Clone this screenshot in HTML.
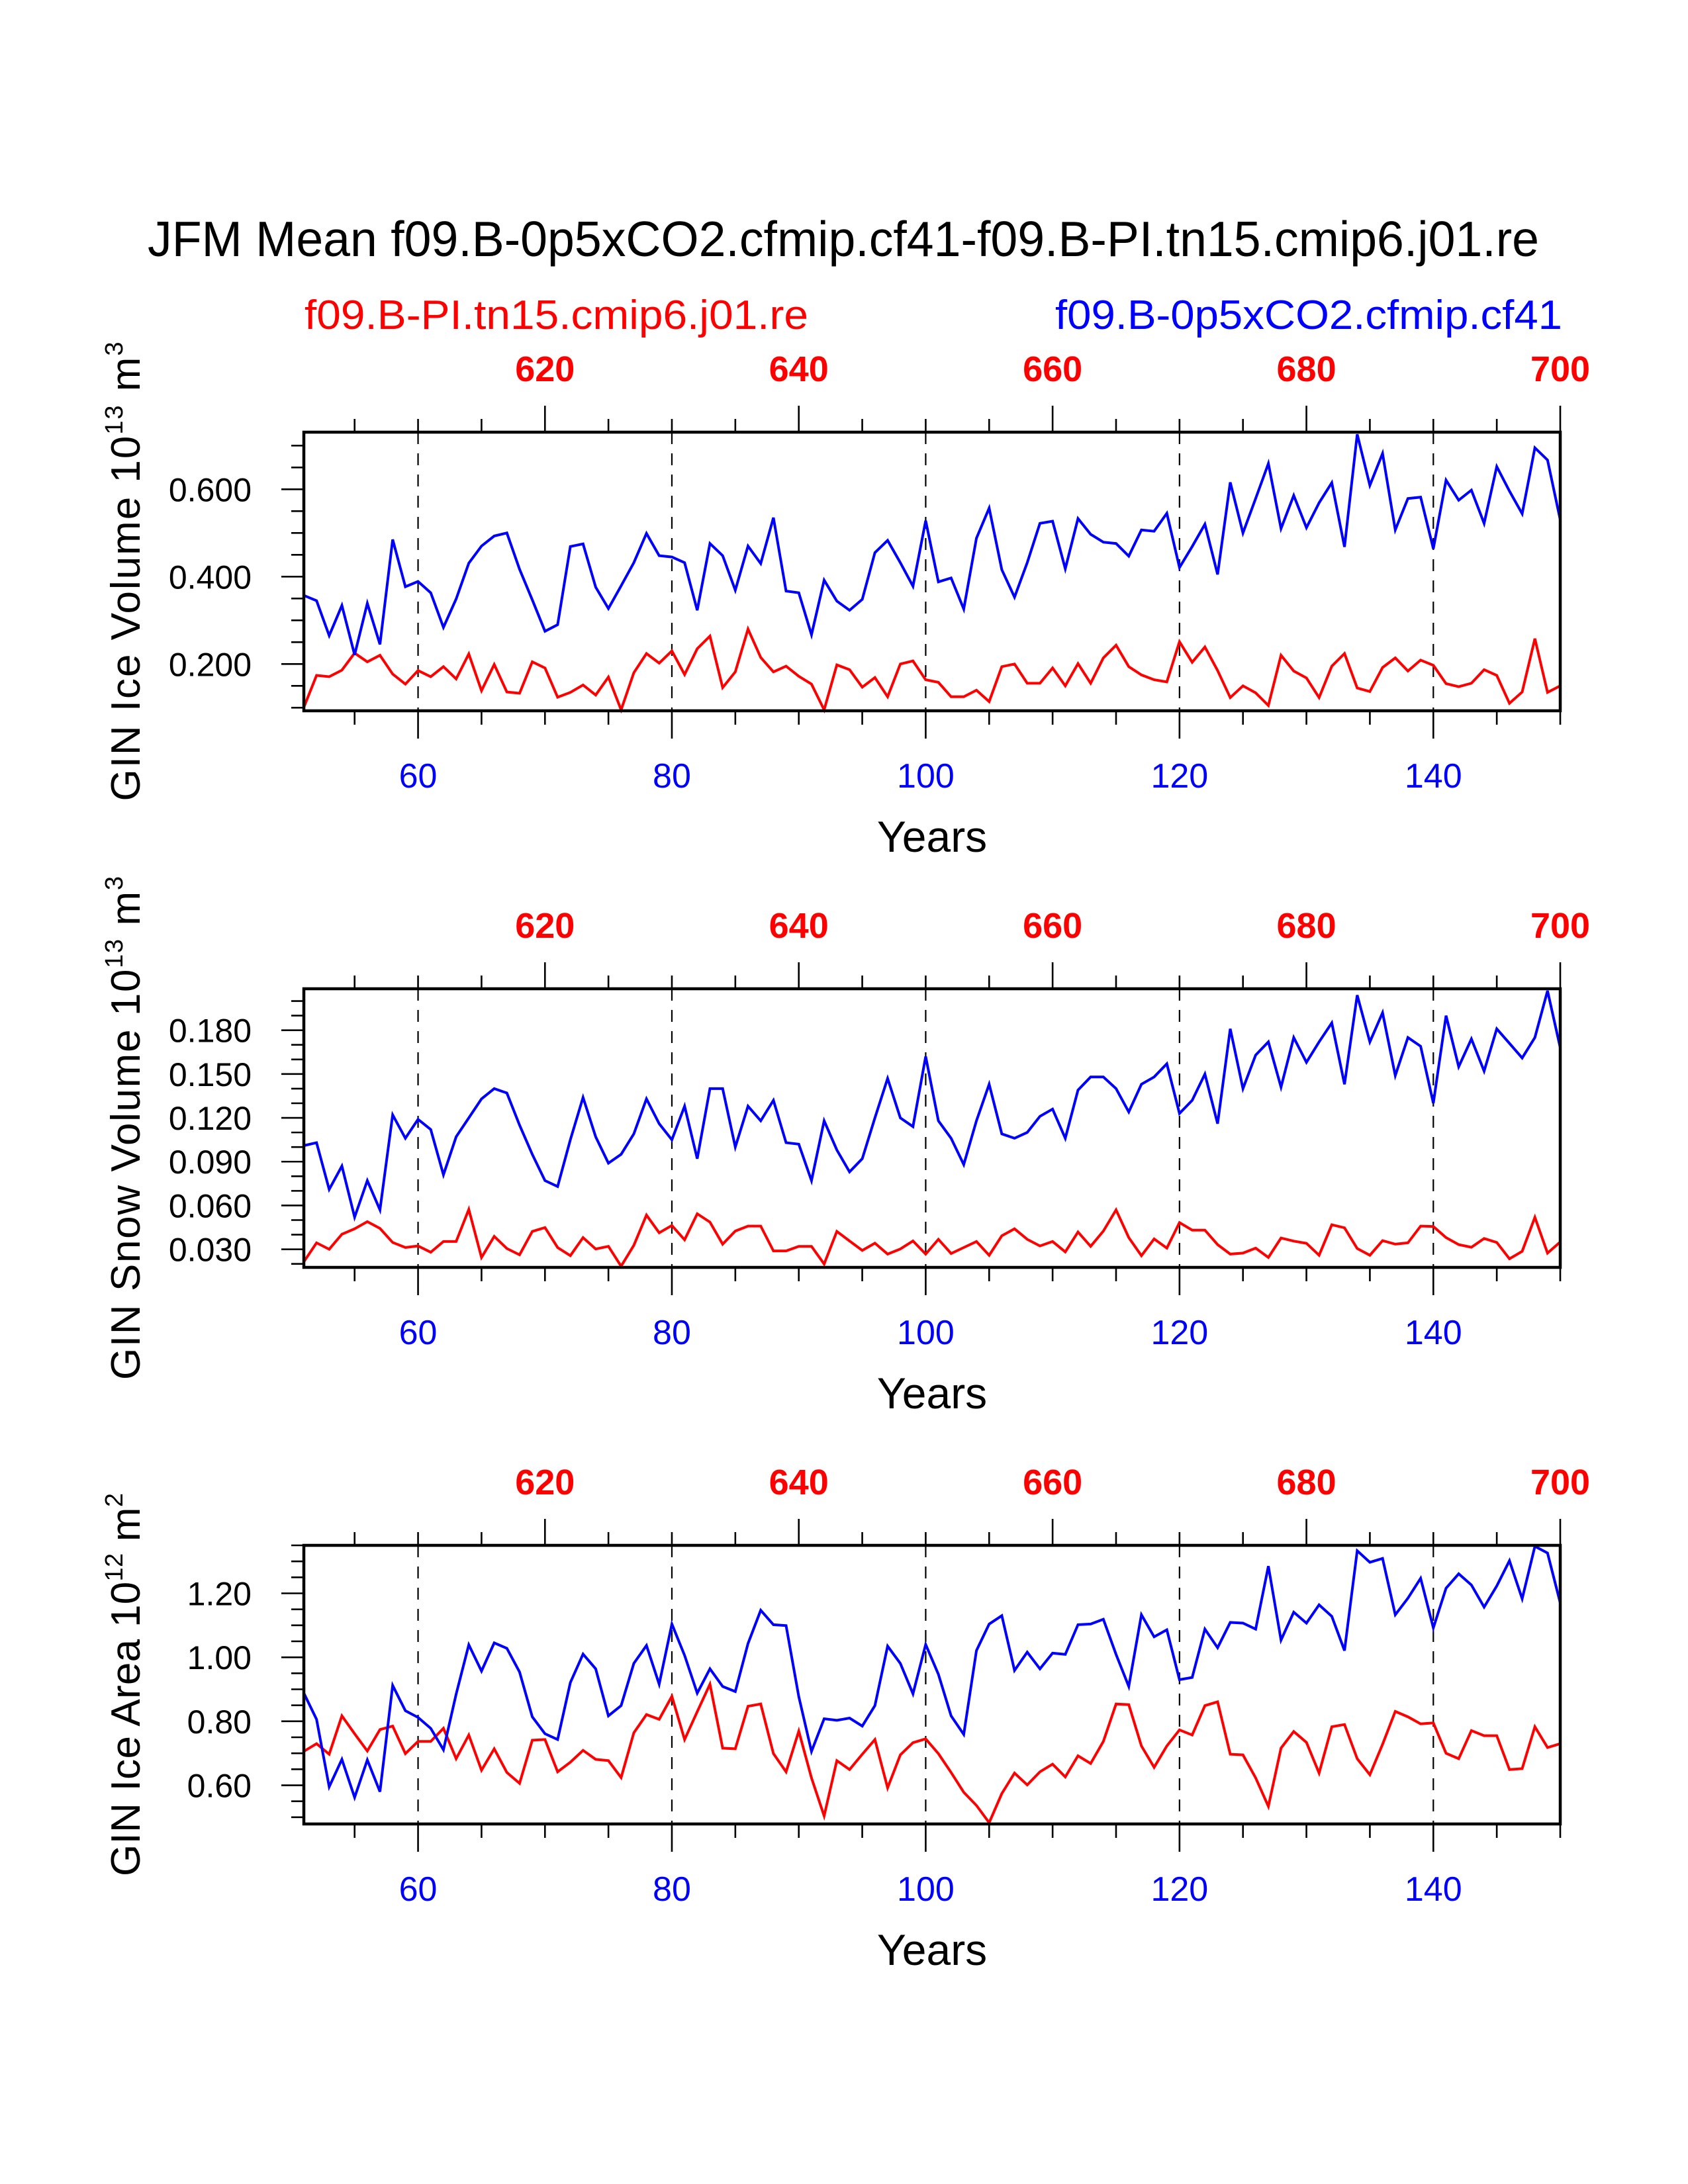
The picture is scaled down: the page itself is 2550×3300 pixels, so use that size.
<!DOCTYPE html>
<html>
<head>
<meta charset="utf-8">
<style>
  html,body{margin:0;padding:0;background:#fff;}
  svg{display:block;}
  text{font-family:"Liberation Sans", Arial, sans-serif;}
</style>
</head>
<body>
<svg id="chart" xmlns="http://www.w3.org/2000/svg" width="2550" height="3300" viewBox="0 0 2550 3300">
  <rect x="0" y="0" width="2550" height="3300" fill="#fff"/>
  <text x="223" y="387" font-size="75" fill="#000" textLength="2102" lengthAdjust="spacingAndGlyphs">JFM Mean f09.B-0p5xCO2.cfmip.cf41-f09.B-PI.tn15.cmip6.j01.re</text>
  <text x="460" y="497" font-size="62" fill="#ff0000" textLength="761" lengthAdjust="spacingAndGlyphs">f09.B-PI.tn15.cmip6.j01.re</text>
  <text x="1594" y="497" font-size="62" fill="#0000ff" textLength="766" lengthAdjust="spacingAndGlyphs">f09.B-0p5xCO2.cfmip.cf41</text>
</svg>
<script>
const years = [];
for (let y = 51; y <= 150; y++) years.push(y);

const iceVolBlue = [0.357,0.345,0.265,0.334,0.221,0.339,0.245,0.485,0.377,0.389,
0.363,0.284,0.349,0.431,0.470,0.493,0.500,0.417,0.347,0.275,
0.290,0.469,0.475,0.376,0.327,0.379,0.432,0.499,0.448,0.445,
0.432,0.323,0.476,0.448,0.369,0.470,0.430,0.535,0.367,0.363,
0.267,0.392,0.344,0.323,0.348,0.455,0.483,0.432,0.378,0.528,
0.388,0.397,0.326,0.488,0.557,0.416,0.353,0.432,0.522,0.527,
0.418,0.533,0.497,0.479,0.476,0.447,0.507,0.504,0.545,0.421,
0.469,0.520,0.405,0.616,0.500,0.579,0.659,0.510,0.586,0.512,
0.569,0.615,0.468,0.726,0.609,0.682,0.507,0.579,0.582,0.464,
0.621,0.575,0.598,0.522,0.652,0.596,0.544,0.695,0.667,0.530];
const iceVolRed = [0.101,0.174,0.171,0.186,0.225,0.205,0.220,0.177,0.154,0.185,
0.171,0.194,0.166,0.223,0.139,0.199,0.136,0.133,0.205,0.191,
0.124,0.135,0.152,0.129,0.170,0.095,0.180,0.224,0.202,0.230,
0.176,0.235,0.264,0.146,0.182,0.280,0.215,0.182,0.195,0.172,
0.154,0.095,0.198,0.187,0.147,0.169,0.125,0.200,0.207,0.164,
0.158,0.125,0.125,0.140,0.114,0.194,0.200,0.156,0.156,0.191,
0.150,0.201,0.156,0.214,0.243,0.194,0.175,0.164,0.159,0.251,
0.204,0.239,0.185,0.123,0.150,0.134,0.105,0.220,0.184,0.168,
0.123,0.195,0.224,0.145,0.137,0.192,0.214,0.184,0.209,0.197,
0.155,0.148,0.156,0.187,0.174,0.110,0.136,0.258,0.135,0.150];
const snowVolBlue = [0.101,0.103,0.071,0.087,0.052,0.077,0.057,0.122,0.106,0.119,
0.112,0.081,0.107,0.120,0.133,0.140,0.137,0.115,0.095,0.077,
0.073,0.105,0.134,0.107,0.089,0.095,0.109,0.133,0.116,0.105,
0.128,0.092,0.140,0.140,0.100,0.128,0.118,0.132,0.103,0.102,
0.077,0.118,0.098,0.083,0.092,0.120,0.147,0.120,0.114,0.162,
0.118,0.106,0.088,0.118,0.143,0.109,0.106,0.110,0.121,0.126,
0.106,0.139,0.148,0.148,0.140,0.124,0.143,0.148,0.157,0.123,
0.132,0.150,0.116,0.181,0.140,0.163,0.172,0.141,0.175,0.158,
0.172,0.185,0.143,0.204,0.172,0.192,0.149,0.175,0.169,0.130,
0.190,0.155,0.174,0.152,0.181,0.171,0.161,0.175,0.207,0.168];
const snowVolRed = [0.0214,0.0344,0.030,0.0403,0.0440,0.0489,0.0443,0.0347,0.0312,0.0323,
0.0280,0.0353,0.0353,0.0573,0.0244,0.0388,0.0305,0.0262,0.0422,0.0449,
0.0312,0.0256,0.0380,0.0302,0.0320,0.0184,0.0327,0.0534,0.0413,0.0463,
0.0365,0.0543,0.0486,0.0335,0.0425,0.0459,0.0459,0.0289,0.0289,0.0320,
0.0320,0.0199,0.0422,0.0357,0.0292,0.0342,0.0267,0.0302,0.0357,0.0267,
0.0368,0.0271,0.0312,0.0353,0.0259,0.0392,0.0440,0.0368,0.0323,0.0353,
0.0282,0.0418,0.0320,0.0425,0.0570,0.0380,0.0256,0.0371,0.0308,0.0483,
0.0431,0.0431,0.0332,0.0267,0.0274,0.0308,0.0244,0.0377,0.0356,0.0341,
0.0259,0.0468,0.0447,0.0305,0.0259,0.0359,0.0335,0.0344,0.0459,0.0456,
0.0380,0.0332,0.0314,0.0374,0.0347,0.0235,0.0286,0.0519,0.0274,0.035];
const iceAreaBlue = [0.888,0.806,0.595,0.681,0.562,0.679,0.580,0.912,0.833,0.812,
0.778,0.711,0.885,1.039,0.957,1.045,1.028,0.954,0.814,0.761,
0.743,0.921,1.010,0.964,0.817,0.849,0.981,1.037,0.916,1.104,
1.006,0.888,0.964,0.909,0.893,1.043,1.147,1.102,1.099,0.877,
0.706,0.808,0.803,0.810,0.785,0.849,1.035,0.981,0.886,1.040,
0.947,0.817,0.759,1.021,1.104,1.130,0.959,1.016,0.964,1.013,
1.009,1.102,1.104,1.119,1.009,0.909,1.133,1.064,1.086,0.930,
0.937,1.088,1.030,1.109,1.107,1.088,1.285,1.054,1.141,1.107,
1.164,1.128,1.021,1.333,1.297,1.309,1.133,1.185,1.247,1.092,
1.216,1.261,1.226,1.157,1.223,1.302,1.183,1.347,1.326,1.170];
const iceAreaRed = [0.706,0.730,0.697,0.817,0.761,0.707,0.774,0.785,0.699,0.737,
0.737,0.778,0.683,0.757,0.647,0.714,0.640,0.606,0.741,0.743,
0.642,0.672,0.709,0.681,0.677,0.624,0.764,0.821,0.806,0.878,
0.743,0.830,0.916,0.716,0.714,0.847,0.854,0.699,0.642,0.769,
0.623,0.504,0.677,0.649,0.697,0.743,0.592,0.695,0.733,0.745,
0.699,0.640,0.578,0.537,0.483,0.574,0.638,0.601,0.642,0.666,
0.626,0.692,0.668,0.737,0.854,0.852,0.723,0.656,0.723,0.773,
0.757,0.849,0.861,0.697,0.695,0.623,0.534,0.716,0.768,0.734,
0.638,0.783,0.790,0.683,0.633,0.728,0.831,0.814,0.792,0.795,
0.700,0.683,0.771,0.755,0.755,0.649,0.652,0.783,0.718,0.73];

const bottomMajorTicks = [60, 80, 100, 120, 140];
const bottomMinorTicks = [55,60,65,70,75,80,85,90,95,100,105,110,115,120,125,130,135,140,145,150];
const topMajorTicks = [620, 640, 660, 680, 700];
const topMinorTicks = [605,610,615,620,625,630,635,640,645,650,655,660,665,670,675,680,685,690,695,700];
const yearOffset = 550;

const p1Major = [0.2, 0.4, 0.6];
const p1Minor = [0.10,0.15,0.20,0.25,0.30,0.35,0.40,0.45,0.50,0.55,0.60,0.65,0.70];
const p2Major = [0.03, 0.06, 0.09, 0.12, 0.15, 0.18];
const p2Minor = [0.02,0.03,0.04,0.05,0.06,0.07,0.08,0.09,0.10,0.11,0.12,0.13,0.14,0.15,0.16,0.17,0.18,0.19,0.20];
const p3Major = [0.6, 0.8, 1.0, 1.2];
const p3Minor = [0.50,0.55,0.60,0.65,0.70,0.75,0.80,0.85,0.90,0.95,1.00,1.05,1.10,1.15,1.20,1.25,1.30,1.35];

const svg = document.getElementById('chart');
const NS = 'http://www.w3.org/2000/svg';
const X0 = 459, X1 = 2357, YR0 = 51, YR1 = 150;
function xScale(yr) { return X0 + (yr - YR0) * (X1 - X0) / (YR1 - YR0); }

function mk(tag, attrs, parent) {
  const e = document.createElementNS(NS, tag);
  for (const k in attrs) e.setAttribute(k, attrs[k]);
  (parent || svg).appendChild(e);
  return e;
}

const panels = [
  {name:'ice-volume', top:653, bottom:1074, vmin:0.0929, vmax:0.7308, major:p1Major, minor:p1Minor, dec:3,
   blue:iceVolBlue, red:iceVolRed, title:'GIN Ice Volume 10', sup1:'13', sup2:'3', tlen:694},
  {name:'snow-volume', top:1494, bottom:1915, vmin:0.0176, vmax:0.2084, major:p2Major, minor:p2Minor, dec:3,
   blue:snowVolBlue, red:snowVolRed, title:'GIN Snow Volume 10', sup1:'13', sup2:'3', tlen:761},
  {name:'ice-area', top:2335, bottom:2756, vmin:0.479, vmax:1.350, major:p3Major, minor:p3Minor, dec:2,
   blue:iceAreaBlue, red:iceAreaRed, title:'GIN Ice Area 10', sup1:'12', sup2:'2', tlen:579}
];

panels.forEach(function(p) {
  const g = mk('g', {});
  
  
  const yScale = function(v) { return p.bottom - (v - p.vmin) * (p.bottom - p.top) / (p.vmax - p.vmin); };

  // dashed grid
  bottomMajorTicks.forEach(function(t) {
    const l = mk('line', {x1:xScale(t), x2:xScale(t), y1:p.top, y2:p.bottom, stroke:'#000', 'stroke-width':2.2, 'stroke-dasharray':'18,14'}, g);
    
    
  });

  // series
  [['red', p.red, '#ff0000'], ['blue', p.blue, '#0000ff']].forEach(function(s) {
    const pts = s[1].map(function(v, i) { return xScale(years[i]).toFixed(1) + ',' + yScale(v).toFixed(1); }).join(' ');
    const pl = mk('polyline', {points:pts, fill:'none', stroke:s[2], 'stroke-width':4, 'stroke-linejoin':'miter'}, g);
    
    
  });

  // frame
  const fr = mk('rect', {x:X0, y:p.top, width:X1 - X0, height:p.bottom - p.top, fill:'none', stroke:'#000', 'stroke-width':4.5}, g);
  
  

  // bottom ticks
  bottomMinorTicks.forEach(function(t) {
    const big = bottomMajorTicks.indexOf(t) >= 0;
    const l = mk('line', {x1:xScale(t), x2:xScale(t), y1:p.bottom, y2:p.bottom + (big ? 42 : 21), stroke:'#000', 'stroke-width':2.6}, g);
    
    
  });
  bottomMajorTicks.forEach(function(t) {
    const tx = mk('text', {x:xScale(t), y:p.bottom + 116, 'font-size':52, fill:'#0000ff', 'text-anchor':'middle'}, g);
    tx.textContent = String(t);
    
    
  });
  const xt = mk('text', {x:(X0 + X1) / 2, y:p.bottom + 213, 'font-size':66, fill:'#000', 'text-anchor':'middle'}, g);
  xt.textContent = 'Years';
  
  

  // top ticks (red years)
  topMinorTicks.forEach(function(t) {
    const big = topMajorTicks.indexOf(t) >= 0;
    const l = mk('line', {x1:xScale(t - yearOffset), x2:xScale(t - yearOffset), y1:p.top, y2:p.top - (big ? 40 : 20), stroke:'#000', 'stroke-width':2.6}, g);
    
    
  });
  topMajorTicks.forEach(function(t) {
    const tx = mk('text', {x:xScale(t - yearOffset), y:p.top - 77, 'font-size':54, 'font-weight':'bold', fill:'#ff0000', 'text-anchor':'middle'}, g);
    tx.textContent = String(t);
    
    
  });

  // y ticks
  p.minor.forEach(function(v) {
    const big = p.major.some(function(m) { return Math.abs(m - v) < 1e-6; });
    const l = mk('line', {x1:X0, x2:X0 - (big ? 34 : 19), y1:yScale(v), y2:yScale(v), stroke:'#000', 'stroke-width':2.6}, g);
    
    
  });
  p.major.forEach(function(v) {
    const tx = mk('text', {x:380, y:yScale(v) + 18, 'font-size':50, fill:'#000', 'text-anchor':'end'}, g);
    tx.textContent = v.toFixed(p.dec);
    
    
  });

  // y title
  const cy = (p.top + p.bottom) / 2;
  const yt = mk('text', {x:0, y:0, 'font-size':62, fill:'#000', 'text-anchor':'middle', textLength:p.tlen, lengthAdjust:'spacing',
    transform:'translate(211,' + cy + ') rotate(-90)'}, g);
  
  
  const t1 = mk('tspan', {}, yt); t1.textContent = p.title;
  const t2 = mk('tspan', {dy:-26, 'font-size':38}, yt); t2.textContent = p.sup1;
  const t3 = mk('tspan', {dy:26}, yt); t3.textContent = ' m';
  const t4 = mk('tspan', {dy:-26, 'font-size':38}, yt); t4.textContent = p.sup2;
});
</script>
</body>
</html>
